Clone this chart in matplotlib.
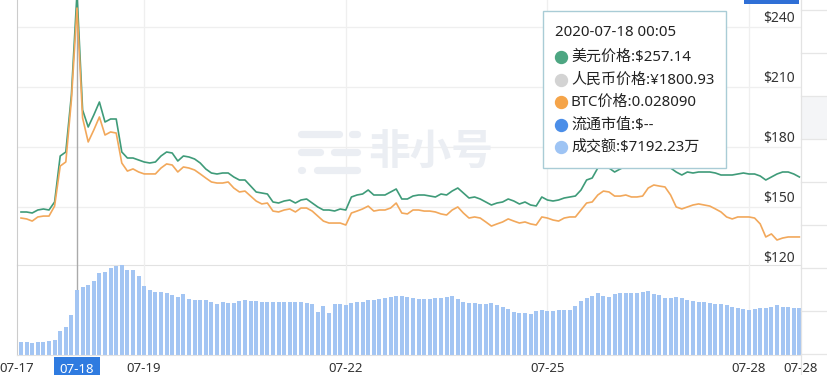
import matplotlib
matplotlib.use('Agg')
import matplotlib.pyplot as plt
import matplotlib.dates as mdates
from matplotlib.patches import Rectangle
from matplotlib.lines import Line2D
import pandas as pd

# ---------------- data ----------------
start_time = '2020-07-17 04:05'
step_hours = 2

usd_price = [
    147.5, 147.5, 147.0, 148.5, 149.0, 148.5, 152.5, 175.5, 177.5, 206.0,
    257.14, 198.5, 190.0, 196.0, 202.5, 192.5, 194.0, 194.0, 177.5, 174.5,
    174.5, 173.5, 172.5, 172.0, 172.5, 175.5, 177.5, 177.0, 173.0, 175.5,
    175.0, 174.0, 172.0, 169.0, 167.0, 166.5, 167.0, 167.0, 165.0, 163.5,
    163.5, 160.5, 157.5, 157.0, 156.5, 152.5, 152.0, 153.0, 153.5, 152.0,
    153.5, 154.0, 152.0, 150.0, 148.5, 148.5, 148.0, 149.0, 148.5, 155.0,
    156.0, 156.5, 158.5, 156.0, 156.0, 156.0, 157.5, 159.0, 154.0, 154.0,
    155.5, 156.0, 156.0, 155.5, 155.0, 156.5, 156.0, 158.0, 159.5, 157.0,
    154.5, 155.0, 154.0, 152.5, 151.0, 152.0, 152.5, 154.0, 153.0, 151.5,
    152.5, 151.0, 150.5, 155.0, 153.5, 153.0, 153.5, 154.5, 155.0, 155.5,
    158.5, 163.5, 164.5, 169.5, 171.5, 169.5, 167.5, 169.0, 170.5, 171.0,
    171.5, 172.5, 173.5, 173.0, 172.5, 171.5, 169.5, 167.5, 166.0, 167.5,
    167.0, 167.5, 167.5, 167.5, 167.0, 166.0, 166.0, 166.0, 166.5, 167.0,
    166.5, 166.5, 165.5, 163.5, 165.0, 166.5, 167.5, 167.5, 166.5, 165.0,
]

btc_price = [
    0.01633, 0.01628, 0.01616, 0.01639, 0.01644, 0.01644, 0.01700, 0.01924, 0.01947, 0.02294,
    0.02809, 0.02193, 0.02059, 0.02126, 0.02199, 0.02098, 0.02115, 0.02109, 0.01941, 0.01896,
    0.01908, 0.01891, 0.01880, 0.01880, 0.01880, 0.01913, 0.01936, 0.01930, 0.01891, 0.01919,
    0.01913, 0.01902, 0.01880, 0.01857, 0.01835, 0.01829, 0.01829, 0.01835, 0.01801, 0.01779,
    0.01784, 0.01756, 0.01728, 0.01712, 0.01717, 0.01672, 0.01667, 0.01678, 0.01684, 0.01667,
    0.01689, 0.01689, 0.01672, 0.01644, 0.01616, 0.01605, 0.01605, 0.01605, 0.01594, 0.01661,
    0.01672, 0.01684, 0.01700, 0.01672, 0.01678, 0.01678, 0.01689, 0.01717, 0.01661, 0.01656,
    0.01678, 0.01678, 0.01672, 0.01672, 0.01667, 0.01656, 0.01650, 0.01678, 0.01695, 0.01661,
    0.01633, 0.01639, 0.01633, 0.01611, 0.01588, 0.01600, 0.01611, 0.01628, 0.01616, 0.01605,
    0.01611, 0.01600, 0.01594, 0.01639, 0.01633, 0.01622, 0.01616, 0.01633, 0.01639, 0.01639,
    0.01678, 0.01717, 0.01723, 0.01762, 0.01784, 0.01779, 0.01756, 0.01756, 0.01762, 0.01751,
    0.01751, 0.01756, 0.01801, 0.01818, 0.01812, 0.01807, 0.01762, 0.01695, 0.01684, 0.01695,
    0.01706, 0.01712, 0.01706, 0.01700, 0.01684, 0.01667, 0.01639, 0.01628, 0.01639, 0.01639,
    0.01639, 0.01633, 0.01600, 0.01527, 0.01544, 0.01510, 0.01521, 0.01527, 0.01527, 0.01527,
]

volume_wan = [
    1443, 1443, 1332, 1443, 1443, 1554, 1665, 2664, 3108, 4440,
    7192.23, 7548, 7770, 8214, 9102, 9213, 9657, 9879, 9990, 9435,
    9435, 8769, 7659, 7215, 6993, 6993, 6882, 6660, 6438, 6771,
    6216, 6105, 6105, 6105, 5883, 5661, 5883, 5772, 5772, 5994,
    6105, 5994, 5994, 5883, 5883, 5883, 5883, 5883, 5883, 5883,
    5883, 5772, 5661, 4773, 5439, 4662, 5661, 5661, 5550, 5772,
    5883, 5883, 6105, 6105, 6216, 6327, 6438, 6549, 6549, 6438,
    6327, 6216, 6216, 6216, 6327, 6327, 6438, 6549, 6216, 5883,
    5772, 5772, 5661, 5661, 5772, 5550, 5328, 5106, 4773, 4662,
    4662, 4551, 4884, 4995, 4884, 4884, 4995, 4995, 4995, 5439,
    5994, 6327, 6549, 6882, 6549, 6438, 6771, 6882, 6882, 6882,
    6882, 6993, 7104, 6771, 6660, 6327, 6327, 6438, 6327, 6105,
    5994, 5883, 5883, 5772, 5661, 5661, 5550, 5328, 5217, 5106,
    4995, 5106, 5217, 5217, 5328, 5550, 5328, 5328, 5217, 5217,
]

price_ticks = [120, 150, 180, 210, 240]
date_ticks = ['2020-07-19', '2020-07-22', '2020-07-25', '2020-07-28']
date_tick_labels = ['07-19', '07-22', '07-25', '07-28']
edge_labels = ['07-17', '07-28']
hover_index = 10
hover_label = '07-18'
cny_price_hover = 1800.93

# ---------------- styling ----------------
GREEN = '#3f9b79'
ORANGE = '#f2a85b'
BAR = '#a3c5f3'
GRID = '#efefef'
TXT = '#333333'
LATIN = ['Noto Sans', 'Noto Sans CJK SC', 'DejaVu Sans']

W, H = 827, 375
fig = plt.figure(figsize=(W / 100, H / 100), dpi=100)
fig.patch.set_facecolor('white')


def fx(x):
    return x / W


def fy(y):
    return 1 - y / H


times = pd.date_range(start_time, periods=len(usd_price), freq=f'{step_hours}h')
t = mdates.date2num(times.to_pydatetime())
step = step_hours / 24.0
x_left = t[0] - step * 4 / 5.6
x_right = t[-1] + step * 1.6 / 5.6

# main price axes
ax = fig.add_axes([fx(17), fy(265), fx(784), 265 / H])
ax.set_facecolor('none')
ax.set_xlim(x_left, x_right)
ax.set_ylim(121, 253.5)
for s in ['top', 'right']:
    ax.spines[s].set_visible(False)
ax.spines['left'].set_color('#cccccc')
ax.spines['bottom'].set_color('#e2e2e2')
ax.set_xticks([])
ax.set_yticks([])
for v in price_ticks:
    ax.axhline(v, color=GRID, lw=0.9, zorder=0.6)
dt_nums = mdates.date2num(pd.to_datetime(date_ticks).to_pydatetime())
for d in dt_nums:
    ax.axvline(d, color=GRID, lw=0.9, zorder=0.6)

# watermark
ax.text(fx(368), fy(152), '非小号', transform=fig.transFigure, fontsize=30,
        fontweight='bold', color='#ebeef3', family='Noto Sans CJK SC',
        ha='left', va='center', zorder=0.7)
logo = [((300.5, 338.5), 133.5), ((351.5, 356.5), 133.5),
        ((300.5, 319.5), 151.5), ((333.5, 356.5), 151.5),
        ((300.5, 301.5), 170), ((316.5, 356.5), 170)]
for (xa, xb), yy in logo:
    ax.add_line(Line2D([fx(xa), fx(xb)], [fy(yy), fy(yy)], transform=fig.transFigure,
                       color='#ebeef3', lw=5.2, solid_capstyle='round', zorder=0.7))

ax.axvline(t[hover_index], color='#aaaaaa', lw=1.0, zorder=1)
ax.plot(t, usd_price, color=GREEN, lw=1.2, zorder=3, clip_on=True)

for v in price_ticks:
    ax.annotate(f'${v}', xy=(1, v), xycoords=('axes fraction', 'data'),
                xytext=(-4.5, 6.3), textcoords='offset points', ha='right', va='center',
                fontsize=10, color=TXT, family=LATIN, zorder=4)

ax2 = ax.twinx()
ax2.set_facecolor('none')
ax2.set_ylim(0.02854 - 0.000056 * 265, 0.02854)
ax2.set_xlim(x_left, x_right)
ax2.axis('off')
ax2.plot(t, btc_price, color=ORANGE, lw=1.2, zorder=2)

# volume axes
axv = fig.add_axes([fx(17), fy(355), fx(784), 90 / H])
axv.set_facecolor('none')
axv.set_xlim(x_left, x_right)
axv.set_ylim(0, 9990)
for s in ['top', 'right']:
    axv.spines[s].set_visible(False)
axv.spines['left'].set_color('#cccccc')
axv.spines['bottom'].set_color('#e2e2e2')
axv.set_yticks([])
for d in dt_nums:
    axv.axvline(d, color=GRID, lw=0.9, zorder=0.5)
axv.axvline(t[hover_index], color='#aaaaaa', lw=1.0, zorder=0.8)
axv.bar(t, volume_wan, width=step * 0.74, color=BAR, zorder=2)

xt = [x_left] + list(dt_nums) + [x_right]
xl = [edge_labels[0]] + date_tick_labels + [edge_labels[1]]
axv.set_xticks(xt)
axv.set_xticklabels(xl, fontsize=9.5, color=TXT, family=LATIN)
axv.tick_params(axis='x', length=0, pad=5)

axv.annotate(hover_label, xy=(t[hover_index], 0), xycoords=('data', 'axes fraction'),
             xytext=(0, -10.3), textcoords='offset points', ha='center', va='center',
             fontsize=9.5, color='white', family=LATIN, zorder=6, annotation_clip=False,
             bbox=dict(boxstyle='square,pad=0.42', fc='#2f7be0', ec='none'))

# right-side panel lines
fig.add_artist(Rectangle((fx(801), fy(139)), fx(26), 43 / H, transform=fig.transFigure,
                         fc='#f4f5f7', ec='none', zorder=0.2))
for yy in [10, 53, 96, 139, 182, 225, 268, 311, 354]:
    fig.add_artist(Line2D([fx(801), 1], [fy(yy), fy(yy)], transform=fig.transFigure,
                          color='#e6e6e6', lw=0.9, zorder=0.3))
fig.add_artist(Line2D([fx(801), fx(801)], [0, 1], transform=fig.transFigure,
                      color='#e3e3e3', lw=0.9, zorder=0.3))
fig.add_artist(Rectangle((fx(744), fy(4)), fx(55), 4 / H, transform=fig.transFigure,
                         fc='#2f6fd6', ec='none', zorder=5))

# tooltip
fig.add_artist(Rectangle((fx(543), fy(168)), fx(183), 157 / H, transform=fig.transFigure,
                         fc='white', ec='#a9ccd6', lw=1.0, zorder=10))
hover_time = times[hover_index].strftime('%Y-%m-%d %H:%M')
fig.text(fx(555), fy(33), hover_time, fontsize=10.8, color='#222222', family=LATIN,
         ha='left', va='center', zorder=11)
tip_rows = [
    ('#4da682', f'美元价格:${usd_price[hover_index]:.2f}'),
    ('#d3d3d3', f'人民币价格:¥{cny_price_hover:.2f}'),
    ('#f5a449', f'BTC价格:{btc_price[hover_index]:.6f}'),
    ('#4b8ee8', '流通市值:$--'),
    ('#9ec4f4', f'成交额:${volume_wan[hover_index]:.2f}万'),
]
row_y = [57, 80, 102, 125, 147]
for (c, txt), yy in zip(tip_rows, row_y):
    fig.add_artist(Line2D([fx(561)], [fy(yy)], transform=fig.transFigure, marker='o',
                          ms=8.6, color=c, mec=c, lw=0, zorder=11))
    fig.text(fx(571), fy(yy), txt, fontsize=10.8, color='#222222', family=LATIN,
             ha='left', va='center', zorder=11)

fig.savefig('out.png', dpi=100, facecolor='white')
